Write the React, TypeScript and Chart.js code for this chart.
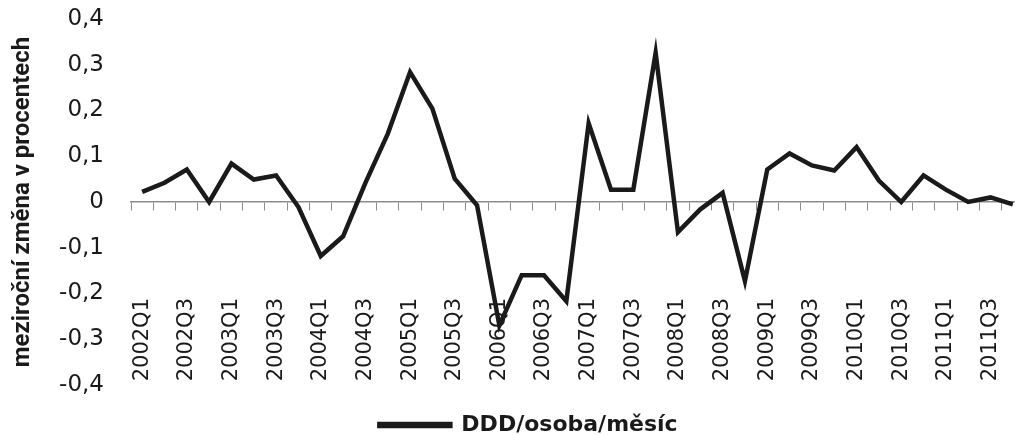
import React, { useEffect, useRef } from "react";
import { Chart, registerables } from "chart.js";

Chart.register(...registerables);

const categories: string[] = [
  "2002Q1", "2002Q2", "2002Q3", "2002Q4",
  "2003Q1", "2003Q2", "2003Q3", "2003Q4",
  "2004Q1", "2004Q2", "2004Q3", "2004Q4",
  "2005Q1", "2005Q2", "2005Q3", "2005Q4",
  "2006Q1", "2006Q2", "2006Q3", "2006Q4",
  "2007Q1", "2007Q2", "2007Q3", "2007Q4",
  "2008Q1", "2008Q2", "2008Q3", "2008Q4",
  "2009Q1", "2009Q2", "2009Q3", "2009Q4",
  "2010Q1", "2010Q2", "2010Q3", "2010Q4",
  "2011Q1", "2011Q2", "2011Q3", "2011Q4",
];

const dddValues: number[] = [
  0.022, 0.042, 0.071, 0.0,
  0.084, 0.049, 0.058, -0.011,
  -0.118, -0.075, 0.042, 0.149,
  0.284, 0.204, 0.051, -0.007,
  -0.27, -0.16, -0.16, -0.217,
  0.172, 0.027, 0.027, 0.326,
  -0.066, -0.016, 0.02, -0.173,
  0.071, 0.106, 0.08, 0.069,
  0.12, 0.047, 0.0, 0.058,
  0.027, 0.0, 0.01, -0.005,
];

const seriesName = "DDD/osoba/měsíc";
const yTitle = "meziroční změna v procentech";
const yMin = -0.4;
const yMax = 0.4;
const yStep = 0.1;

export default function App() {
  const canvasRef = useRef<HTMLCanvasElement | null>(null);

  useEffect(() => {
    if (!canvasRef.current) return;
    Chart.defaults.font.family = "'DejaVu Sans', Verdana, sans-serif";
    const chart = new Chart(canvasRef.current, {
      type: "line",
      data: {
        labels: categories,
        datasets: [
          {
            label: seriesName,
            data: dddValues,
            borderColor: "#1a1a1a",
            backgroundColor: "#1a1a1a",
            borderWidth: 4.5,
            borderJoinStyle: "miter",
            pointRadius: 0,
            pointHoverRadius: 0,
            tension: 0,
            fill: false,
          },
        ],
      },
      options: {
        animation: false,
        responsive: false,
        devicePixelRatio: 1,
        events: [],
        layout: { padding: { left: 33, right: 6, top: 19, bottom: 0 } },
        plugins: {
          tooltip: { enabled: false },
          legend: {
            display: true,
            position: "bottom",
            labels: {
              boxWidth: 71,
              boxHeight: 2,
              padding: 29,
              color: "#1a1a1a",
              font: { size: 22, weight: "bold", family: "'DejaVu Sans', Verdana, sans-serif" },
            },
          },
        },
        scales: {
          x: {
            type: "category",
            position: { y: 0 } as any,
            offset: true,
            grid: {
              display: true,
              offset: true,
              drawOnChartArea: false,
              drawTicks: true,
              tickLength: 8,
              color: "#8c8c8c",
              lineWidth: 1,
            },
            border: { display: true, color: "#8c8c8c", width: 1.5 },
            ticks: {
              autoSkip: false,
              maxRotation: 90,
              minRotation: 90,
              padding: 88,
              color: "#1a1a1a",
              font: { size: 21 },
              callback: function (_v: any, index: number) {
                return index % 2 === 0 ? categories[index] : "";
              },
            },
            afterFit: (scale: any) => {
              scale.paddingLeft = 0;
              scale.paddingRight = 0;
              scale.paddingTop = 0;
              scale.paddingBottom = 0;
            },
          },
          y: {
            type: "linear",
            min: yMin,
            max: yMax,
            grid: { display: false, drawTicks: false },
            border: { display: false },
            ticks: {
              stepSize: yStep,
              padding: 27,
              color: "#1a1a1a",
              font: { size: 23 },
              callback: (v: any) => {
                const n = Number(v);
                if (Math.abs(n) < 1e-9) return "0";
                return n.toFixed(1).replace(".", ",");
              },
            },
            title: {
              display: true,
              text: yTitle,
              color: "#1a1a1a",
              padding: { top: -24, bottom: 0 },
              font: {
                size: 24,
                weight: "bold",
                family: "Roboto, 'Liberation Sans', sans-serif",
              },
            },
            afterFit: (scale: any) => {
              scale.width = 98;
              scale.paddingTop = 0;
              scale.paddingBottom = 0;
            },
          },
        },
      },
    });
    return () => chart.destroy();
  }, []);

  return (
    <div
      style={{
        position: "fixed",
        left: 0,
        top: 0,
        width: 1015,
        height: 435,
        overflow: "hidden",
        background: "#ffffff",
      }}
    >
      <canvas ref={canvasRef} width={1030} height={446} style={{ display: "block" }} />
    </div>
  );
}
